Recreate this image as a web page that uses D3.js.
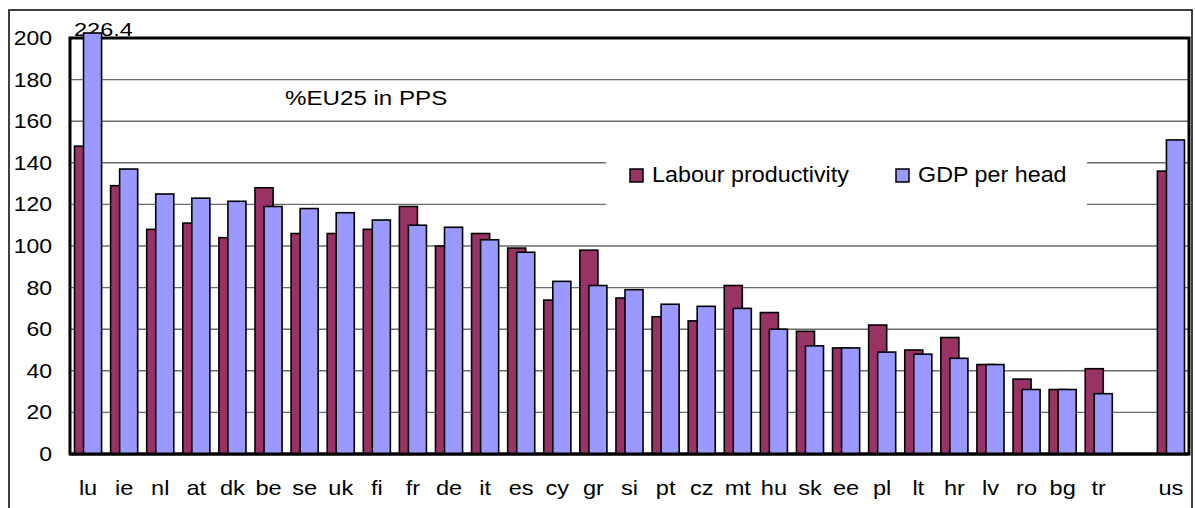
<!DOCTYPE html>
<html>
<head>
<meta charset="utf-8">
<script src="https://cdn.jsdelivr.net/npm/d3@7"></script>
<style>
  body { margin: 0; background: #fff; }
  svg text { font-family: Arial, "Liberation Sans", sans-serif; fill: #000; }
</style>
</head>
<body>
<svg id="board" width="1195" height="508"></svg>
<script>
// country codes, one empty slot before us
let countries = ['lu','ie','nl','at','dk','be','se','uk','fi','fr','de','it','es','cy','gr','si','pt','cz','mt','hu','sk','ee','pl','lt','hr','lv','ro','bg','tr','','us']
let labourProd = [148,129,108,111,104,128,106,106,108,119,100,106,99,74,98,75,66,64,81,68,59,51,62,50,56,43,36,31,41,null,136]
let gdpHead   = [226.4,137,125,123,121.5,119,118,116,112.5,110,109,103,97,83,81,79,72,71,70,60,52,51,49,48,46,43,31,31,29,null,151]
let yTicks = [0,20,40,60,80,100,120,140,160,180,200]
let seriesNames = ['Labour productivity', 'GDP per head']
let seriesColors = ['#993366', '#9999ff']

let board = d3.select('#board')

let plotLeft = 70, plotRight = 1189, plotTop = 38, plotBottom = 454

let x = d3.scaleBand()
    .domain(d3.range(countries.length))
    .range([plotLeft, plotRight])
    .padding(0)

let y = d3.scaleLinear()
    .domain([0, 200])
    .range([plotBottom, plotTop])

let bw = x.bandwidth()

// outer frame
board.append('rect')
    .attr('x', 9).attr('y', 10)
    .attr('width', 1183).attr('height', 520)
    .attr('fill', 'none').attr('stroke', '#000').attr('stroke-width', 1.5)

// grid
board.append('g')
    .selectAll('line')
    .data(yTicks.filter(t => t > 0 && t < 200))
    .enter()
    .append('line')
    .attr('x1', plotLeft).attr('x2', plotRight)
    .attr('y1', d => y(d)).attr('y2', d => y(d))
    .attr('stroke', '#6a6a6a').attr('stroke-width', 1.4)

// white legend box hides grid
board.append('rect')
    .attr('x', 606).attr('y', 132)
    .attr('width', 481).attr('height', 94)
    .attr('fill', '#fff')

// plot border
board.append('rect')
    .attr('x', plotLeft).attr('y', plotTop)
    .attr('width', plotRight - plotLeft).attr('height', plotBottom - plotTop)
    .attr('fill', 'none').attr('stroke', '#000').attr('stroke-width', 3)

let stretchText = function(g, tx, ty, str, size, anchor, sx, sy) {
    return g.append('text')
        .attr('transform', 'translate(' + tx + ',' + ty + ') scale(' + sx + ',' + (sy || 1) + ')')
        .attr('text-anchor', anchor)
        .style('font-size', size + 'px')
        .text(str)
}

let labels = board.append('g')

// value of the clipped bar (bar is drawn over its foot)
stretchText(labels, 74, 36, gdpHead[0], 20.5, 'start', 1.15, 0.88)

// bars
let barTop = (v) => Math.max(y(v), plotTop - 5)

let bars = board.append('g')
let series = [labourProd, gdpHead]
series.forEach((vals, s) => {
    bars.selectAll('rect.s' + s)
        .data(vals.map((v, i) => ({v: v, i: i})).filter(d => d.v != null))
        .enter()
        .append('rect')
        .attr('class', 's' + s)
        .attr('x', d => x(d.i) + bw * (0.125 + s * 0.25))
        .attr('width', bw * 0.5)
        .attr('y', d => barTop(d.v))
        .attr('height', d => plotBottom - barTop(d.v))
        .attr('fill', seriesColors[s])
        .attr('stroke', '#000')
        .attr('stroke-width', 1.6)
})

// baseline again on top
board.append('line')
    .attr('x1', plotLeft).attr('x2', plotRight)
    .attr('y1', plotBottom).attr('y2', plotBottom)
    .attr('stroke', '#000').attr('stroke-width', 3)

// y tick labels
yTicks.forEach(t => {
    stretchText(labels, 52, y(t) + 7, t, 20, 'end', 1.15)
})

// category labels
countries.forEach((c, i) => {
    stretchText(labels, x(i) + bw / 2, 495, c, 20.5, 'middle', 1.15)
})

// note
stretchText(labels, 285, 105, '%EU25 in PPS', 21, 'start', 1.15)

// legend
let legendX = [630, 896]
seriesNames.forEach((n, s) => {
    board.append('rect')
        .attr('x', legendX[s]).attr('y', 169)
        .attr('width', 13).attr('height', 13)
        .attr('fill', seriesColors[s])
        .attr('stroke', '#000').attr('stroke-width', 1.5)
    stretchText(labels, legendX[s] + 22, 182, n, 22, 'start', 1.06)
})
</script>
</body>
</html>
